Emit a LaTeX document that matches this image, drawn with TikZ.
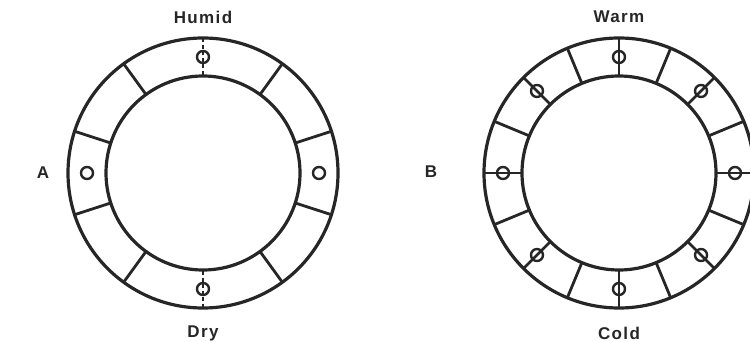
\documentclass[tikz,border=0pt]{standalone}
\usepackage{fontspec}
\usetikzlibrary{calc}
\setmainfont{Liberation Sans}
\newfontfamily\lblfont[LetterSpace=8]{Liberation Sans}
\begin{document}
\begin{tikzpicture}[x=1pt,y=-1pt,
  ring/.style={line width=3.2pt, draw=black!85},
  spoke/.style={line width=2.8pt, draw=black!85},
  dspoke/.style={line width=2.5pt, draw=black!85, dash pattern=on 4pt off 2.5pt},
  dot/.style={circle, draw=black!85, line width=2.4pt, minimum size=12pt, inner sep=0pt},
  lbl/.style={font=\lblfont\bfseries\fontsize{17}{19}\selectfont, text=black!85}]
\useasboundingbox (0,0) rectangle (750,342);
\clip (0,0) rectangle (750,342);
% ---------- A ----------
\coordinate (ca) at (203,173);
\draw[ring] (ca) circle[radius=135];
\draw[ring] (ca) circle[radius=97];
\foreach \a in {18,54,126,162,198,234,306,342}
  \draw[spoke] ($(ca)+(\a:97 and -97)$) -- ($(ca)+(\a:135 and -135)$);
\foreach \a in {90,270}
  \draw[dspoke] ($(ca)+(\a:98 and -98)$) -- ($(ca)+(\a:134 and -134)$);
\node[dot] (ta) at ($(ca)+(0,-116)$) {};
\node[dot] (ba) at ($(ca)+(0,116)$) {};
\node[dot] (la) at ($(ca)+(-116,0)$) {};
\node[dot] (ra) at ($(ca)+(116,0)$) {};
\node[lbl] (humid) at (203,17) {Humid};
\node[lbl] (dry) at (203,333) {Dry};
\node[lbl] (A) at (43,173) {A};
% ---------- B ----------
\coordinate (cb) at (619,173);
\draw[ring] (cb) circle[radius=135];
\draw[ring] (cb) circle[radius=97];
\foreach \a in {0,22.5,...,337.5}
  \draw[spoke] ($(cb)+(\a:97 and -97)$) -- ($(cb)+(\a:135 and -135)$);
\foreach \a in {0,45,...,315}
  \node[dot] (b\a) at ($(cb)+(\a:116 and -116)$) {};
\node[lbl] (warm) at (619,17) {Warm};
\node[lbl] (cold) at (619,333) {Cold};
\node[lbl] (B) at (431,172) {B};
\end{tikzpicture}
\end{document}
